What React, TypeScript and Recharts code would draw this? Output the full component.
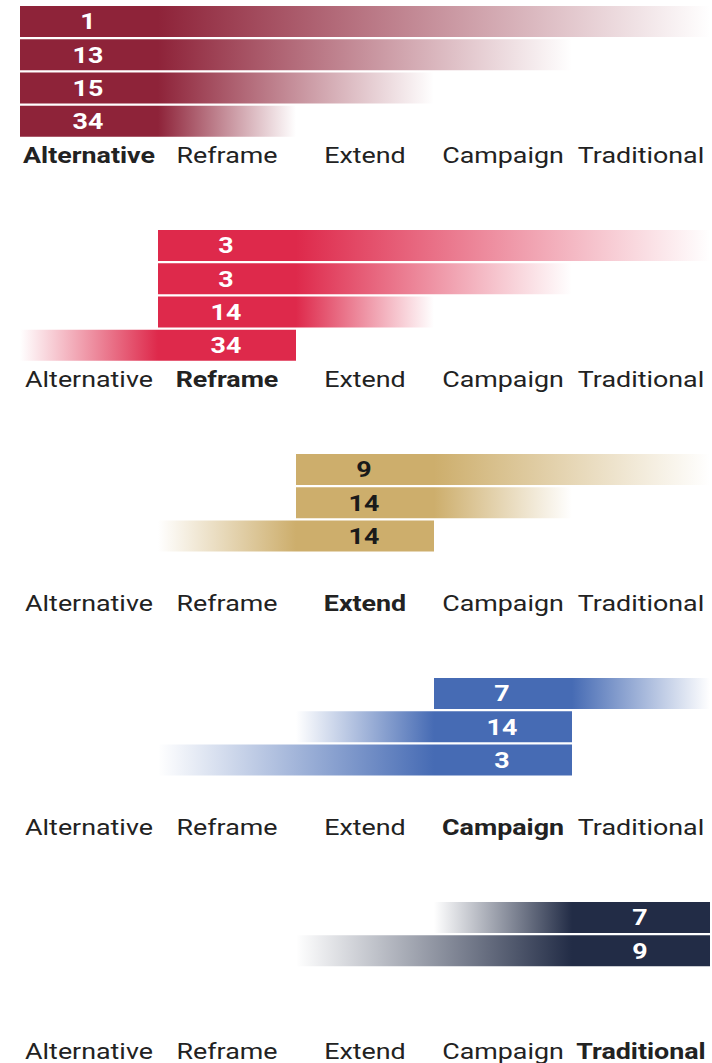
import React from 'react';
import { BarChart, Bar, XAxis, YAxis, LabelList } from 'recharts';

const categories = ['Alternative', 'Reframe', 'Extend', 'Campaign', 'Traditional'];
const panelColors = ['#8E2339', '#DE294B', '#CDAE6C', '#466BB4', '#222C46'];
const numberColors = ['#FFFFFF', '#FFFFFF', '#1A1A1A', '#FFFFFF', '#FFFFFF'];

// counts shown on each bar, and the category range (from, to) each bar fades across
const alternativeCounts = [1, 13, 15, 34];
const alternativeFrom = [0, 0, 0, 0];
const alternativeTo = [5, 4, 3, 2];

const reframeCounts = [3, 3, 14, 34];
const reframeFrom = [1, 1, 1, 0];
const reframeTo = [5, 4, 3, 2];

const extendCounts = [9, 14, 14];
const extendFrom = [2, 2, 1];
const extendTo = [5, 4, 3];

const campaignCounts = [7, 14, 3];
const campaignFrom = [3, 2, 1];
const campaignTo = [5, 4, 4];

const traditionalCounts = [7, 9];
const traditionalFrom = [3, 2];
const traditionalTo = [5, 5];

const panels = [
  { counts: alternativeCounts, from: alternativeFrom, to: alternativeTo },
  { counts: reframeCounts, from: reframeFrom, to: reframeTo },
  { counts: extendCounts, from: extendFrom, to: extendTo },
  { counts: campaignCounts, from: campaignFrom, to: campaignTo },
  { counts: traditionalCounts, from: traditionalFrom, to: traditionalTo },
];

const SLOTS = 4;
const FONT = 'Roboto, "Noto Sans", sans-serif';
const SCALE_X = 1.22;

function buildRows(p: number) {
  const { counts, from, to } = panels[p];
  const rows = [];
  for (let i = 0; i < SLOTS; i++) {
    if (i < counts.length) {
      rows.push({
        slot: 's' + i,
        offset: from[i],
        left: p - from[i],
        solid: 1,
        right: to[i] - p - 1,
        count: counts[i],
      });
    } else {
      rows.push({ slot: 's' + i, offset: 0, left: 0, solid: 0, right: 0, count: null });
    }
  }
  return rows;
}

const makeTick = (p: number) => (props: any) => {
  const { x, y, payload } = props;
  const idx = Math.round(payload.value - 0.5);
  const bold = idx === p;
  return (
    <g transform={`translate(${x},${y + 16.5}) scale(${SCALE_X},1)`}>
      <text
        x={0}
        y={0}
        textAnchor="middle"
        fill="#222"
        fontFamily={FONT}
        fontSize={22}
        fontWeight={bold ? 700 : 400}
      >
        {categories[idx]}
      </text>
    </g>
  );
};

const makeNumberLabel = (p: number) => (props: any) => {
  const { x, y, width, height, value } = props;
  if (value === null || value === undefined) return null;
  const cx = Number(x) + Number(width) / 2;
  const cy = Number(y) + Number(height) / 2;
  return (
    <g transform={`translate(${cx - 1},${cy}) scale(${SCALE_X},1)`}>
      <text
        x={0}
        y={0}
        dy="0.36em"
        textAnchor="middle"
        fill={numberColors[p]}
        fontFamily={FONT}
        fontSize={22}
        fontWeight={700}
      >
        {value}
      </text>
    </g>
  );
};

function Panel({ p }: { p: number }) {
  const data = buildRows(p);
  const color = panelColors[p];
  return (
    <BarChart
      width={712}
      height={224}
      data={data}
      layout="vertical"
      margin={{ top: 5, right: 2, bottom: 56, left: 20 }}
      barCategoryGap={1}
    >
      <XAxis
        type="number"
        domain={[0, 5]}
        ticks={[0.5, 1.5, 2.5, 3.5, 4.5]}
        axisLine={false}
        tickLine={false}
        height={30}
        interval={0}
        tick={makeTick(p)}
      />
      <YAxis type="category" dataKey="slot" hide />
      <Bar dataKey="offset" stackId="a" fill="transparent" isAnimationActive={false} />
      <Bar dataKey="left" stackId="a" fill={`url(#fadeIn${p})`} isAnimationActive={false} />
      <Bar dataKey="solid" stackId="a" fill={color} isAnimationActive={false}>
        <LabelList dataKey="count" content={makeNumberLabel(p)} />
      </Bar>
      <Bar dataKey="right" stackId="a" fill={`url(#fadeOut${p})`} isAnimationActive={false} />
    </BarChart>
  );
}

export default function App() {
  return (
    <div style={{ position: 'absolute', left: 0, top: 0, width: 712, height: 1063, background: '#fff', overflow: 'hidden' }}>
      <svg width={0} height={0} style={{ position: 'absolute' }}>
        <defs>
          {panelColors.map((c, i) => (
            <linearGradient key={'in' + i} id={`fadeIn${i}`} x1="0" y1="0" x2="1" y2="0">
              <stop offset="0" stopColor={c} stopOpacity={0} />
              <stop offset="1" stopColor={c} stopOpacity={1} />
            </linearGradient>
          ))}
          {panelColors.map((c, i) => (
            <linearGradient key={'out' + i} id={`fadeOut${i}`} x1="0" y1="0" x2="1" y2="0">
              <stop offset="0" stopColor={c} stopOpacity={1} />
              <stop offset="1" stopColor={c} stopOpacity={0} />
            </linearGradient>
          ))}
        </defs>
      </svg>
      {panels.map((_, p) => (
        <Panel key={p} p={p} />
      ))}
    </div>
  );
}
